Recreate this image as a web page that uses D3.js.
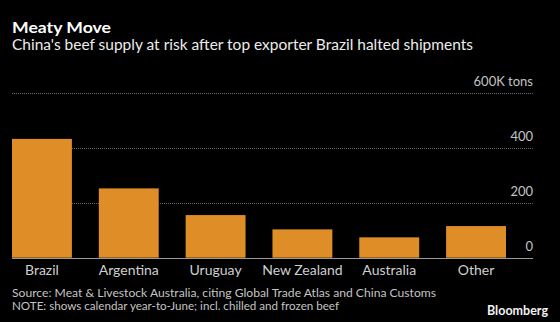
<!DOCTYPE html>
<html>
<head>
<meta charset="utf-8">
<script src="https://cdn.jsdelivr.net/npm/d3@7"></script>
<style>
  html, body { margin: 0; padding: 0; background: #000; }
  svg { display: block; font-family: Lato, "Noto Sans", sans-serif; }
</style>
</head>
<body>
<svg id="chart" width="560" height="322"></svg>
<script>
const categories = ["Brazil", "Argentina", "Uruguay", "New Zealand", "Australia", "Other"];
const values = [432, 252, 155, 103, 74, 115];
const tickValues = [0, 200, 400, 600];
const tickLabels = ["0", "200", "400", "600K tons"];
const title = "Meaty Move";
const subtitle = "China's beef supply at risk after top exporter Brazil halted shipments";
const source = "Source: Meat & Livestock Australia, citing Global Trade Atlas and China Customs";
const note = "NOTE: shows calendar year-to-June; incl. chilled and frozen beef";

const data = categories.map((c, i) => ({ cat: c, value: values[i] }));

const svg = d3.select("#chart");
svg.append("rect").attr("width", 560).attr("height", 322).attr("fill", "#000");

const left = 12, plotRight = 506, axisRight = 533;
const x = d3.scaleBand().domain(categories).range([left, plotRight]).paddingInner(0.31).paddingOuter(0);
const y = d3.scaleLinear().domain([0, 600]).range([257.7, 92.7]);

// gridlines
svg.append("g").selectAll("line").data(tickValues.filter(v => v > 0)).join("line")
  .attr("x1", left).attr("x2", axisRight)
  .attr("y1", d => Math.round(y(d)) + 0.5).attr("y2", d => Math.round(y(d)) + 0.5)
  .attr("stroke", "#6a6a6a").attr("stroke-width", 1).attr("stroke-dasharray", "1,1");

// bars
svg.append("g").selectAll("rect").data(data).join("rect")
  .attr("x", d => x(d.cat)).attr("width", x.bandwidth())
  .attr("y", d => y(d.value)).attr("height", d => y(0) - y(d.value))
  .attr("fill", "#df8d26");

// baseline
svg.append("line").attr("x1", left).attr("x2", axisRight)
  .attr("y1", Math.round(y(0)) + 0.5).attr("y2", Math.round(y(0)) + 0.5)
  .attr("stroke", "#9a9a9a").attr("stroke-width", 1);

// tick labels
svg.append("g").selectAll("text").data(tickValues).join("text")
  .attr("x", axisRight).attr("y", d => y(d) - 7)
  .attr("text-anchor", "end").attr("font-size", 13).attr("fill", "#c4c4c4")
  .text((d, i) => tickLabels[i]);

// category labels
svg.append("g").selectAll("text").data(categories).join("text")
  .attr("x", d => x(d) + x.bandwidth() / 2).attr("y", 274.5)
  .attr("text-anchor", "middle").attr("font-size", 14).attr("fill", "#cfcfcf")
  .text(d => d);

// titles
svg.append("text").attr("x", 12).attr("y", 32.5).attr("font-size", 14.5).attr("font-weight", "bold")
  .attr("fill", "#fff").attr("textLength", 99).attr("lengthAdjust", "spacingAndGlyphs").text(title);
svg.append("text").attr("x", 12).attr("y", 50).attr("font-size", 14.5)
  .attr("fill", "#ececec").attr("textLength", 461).attr("lengthAdjust", "spacingAndGlyphs").text(subtitle);

// footer
svg.append("text").attr("x", 12).attr("y", 296.8).attr("font-size", 10.5)
  .attr("fill", "#c4c4c4").attr("textLength", 424).attr("lengthAdjust", "spacingAndGlyphs").text(source);
svg.append("text").attr("x", 12).attr("y", 309.5).attr("font-size", 10.5)
  .attr("fill", "#c4c4c4").attr("textLength", 327).attr("lengthAdjust", "spacingAndGlyphs").text(note);
svg.append("text").attr("x", 548).attr("y", 314.5).attr("text-anchor", "end").attr("font-size", 12.5)
  .attr("font-weight", "bold").attr("fill", "#f2f2f2").attr("textLength", 61).attr("lengthAdjust", "spacingAndGlyphs").text("Bloomberg");
</script>
</body>
</html>
